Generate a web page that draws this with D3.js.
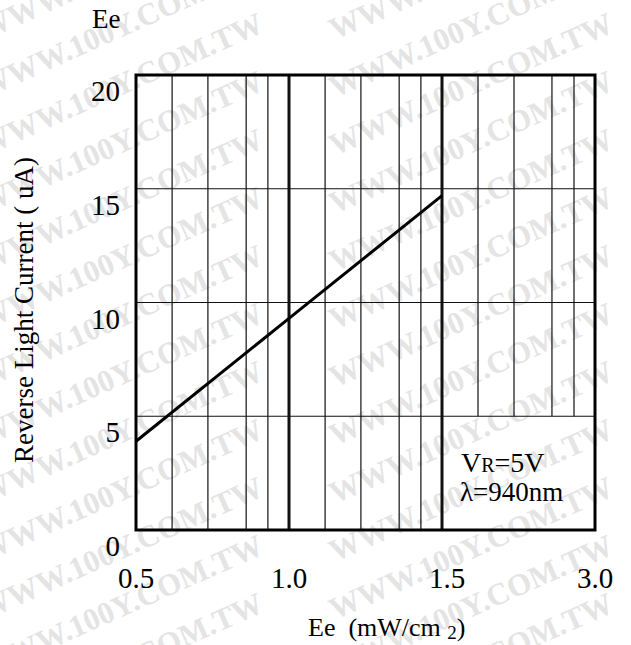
<!DOCTYPE html>
<html>
<meta charset="utf-8">
<head>
<style>
  body { margin: 0; background: #fff; }
  text { font-family: "Liberation Serif", "Times New Roman", serif; fill: #000; }
  .wm { font-weight: bold; fill: #e4e4e4; }
</style>
</head>
<body>
<script src="https://cdn.jsdelivr.net/npm/d3@7"></script>
<script>

// chart data
var xTicks = [0.5, 1.0, 1.5, 3.0];
var xTickLabels = ["0.5", "1.0", "1.5", "3.0"];
var yTicks = [0, 5, 10, 15, 20];
var yGrid = [5, 10, 15];
var xMajor = [1.0, 1.5];
var xMinor = [0.618, 0.735, 0.86, 0.931, 1.118, 1.235, 1.36, 1.431];
var xMinorUpper = [1.853, 2.206, 2.578, 2.794];   // stop at the 5 uA line
var ee = [0.5, 1.0, 1.5];
var current = [3.9, 9.3, 14.7];

var width = 631, height = 645;
var margin = {top: 75, right: 36, bottom: 115, left: 136};

// x axis is split into three equal segments
var x = d3.scaleLinear()
    .domain(xTicks)
    .range([margin.left, 289, 442, width - margin.right]);
var y = d3.scaleLinear()
    .domain([0, 20])
    .range([height - margin.bottom, margin.top]);

var svg = d3.select("body").append("svg")
    .attr("width", width)
    .attr("height", height);

// watermark
var wm = svg.append("g");
[-15, 335].forEach(function(cx) {
  for (var cy = 40; cy < 760; cy += 58) {
    wm.append("text")
      .attr("class", "wm")
      .attr("transform", "translate(" + cx + "," + cy + ") rotate(-24)")
      .style("font-size", "31px")
      .text("WWW.100Y.COM.TW");
  }
});

var grid = svg.append("g").attr("stroke", "#111").attr("fill", "none");

grid.selectAll(".minor")
  .data(xMinor)
  .enter().append("line")
    .attr("x1", function(d) { return x(d); })
    .attr("x2", function(d) { return x(d); })
    .attr("y1", y(20))
    .attr("y2", y(0))
    .attr("stroke-width", 1.2);

grid.selectAll(".minorU")
  .data(xMinorUpper)
  .enter().append("line")
    .attr("x1", function(d) { return x(d); })
    .attr("x2", function(d) { return x(d); })
    .attr("y1", y(20))
    .attr("y2", y(5))
    .attr("stroke-width", 1.2);

grid.selectAll(".hgrid")
  .data(yGrid)
  .enter().append("line")
    .attr("x1", x(0.5))
    .attr("x2", x(3.0))
    .attr("y1", function(d) { return y(d); })
    .attr("y2", function(d) { return y(d); })
    .attr("stroke-width", 1.2);

grid.selectAll(".major")
  .data(xMajor)
  .enter().append("line")
    .attr("x1", function(d) { return x(d); })
    .attr("x2", function(d) { return x(d); })
    .attr("y1", y(20))
    .attr("y2", y(0))
    .attr("stroke-width", 3);

// frame
svg.append("rect")
    .attr("x", x(0.5))
    .attr("y", y(20))
    .attr("width", x(3.0) - x(0.5))
    .attr("height", y(0) - y(20))
    .attr("fill", "none")
    .attr("stroke", "#000")
    .attr("stroke-width", 3);

// response line
var line = d3.line()
    .x(function(d, i) { return x(ee[i]); })
    .y(function(d) { return y(d); });

svg.append("path")
    .datum(current)
    .attr("d", line)
    .attr("fill", "none")
    .attr("stroke", "#000")
    .attr("stroke-width", 3);

// tick labels
svg.selectAll(".ylab")
  .data(yTicks)
  .enter().append("text")
    .attr("x", 120)
    .attr("y", function(d) { return y(d) + 26; })
    .attr("text-anchor", "end")
    .style("font-size", "29px")
    .text(function(d) { return d; });

svg.selectAll(".xlab")
  .data(xTicks)
  .enter().append("text")
    .attr("x", function(d) { return x(d) + (d === 1.5 ? 5 : 0); })
    .attr("y", 588)
    .attr("text-anchor", "middle")
    .style("font-size", "29px")
    .text(function(d, i) { return xTickLabels[i]; });

svg.append("text")
    .attr("x", 92)
    .attr("y", 28)
    .style("font-size", "27px")
    .text("Ee");

// axis titles
svg.append("text")
    .attr("transform", "translate(33," + 310 + ") rotate(-90)")
    .attr("text-anchor", "middle")
    .style("font-size", "27px")
    .text("Reverse Light Current ( uA)");

var xt = svg.append("text")
    .attr("x", 308)
    .attr("y", 636)
    .style("font-size", "26px")
    .attr("xml:space", "preserve");
xt.append("tspan").text("Ee  (mW/cm ");
xt.append("tspan").attr("dy", 3).style("font-size", "19px").text("2");
xt.append("tspan").attr("dy", -3).text(")");

// conditions
var c1 = svg.append("text")
    .attr("x", 461)
    .attr("y", 472)
    .style("font-size", "28px");
c1.append("tspan").text("V");
c1.append("tspan").style("font-size", "20px").text("R");
c1.append("tspan").text("=5V");

svg.append("text")
    .attr("x", 460)
    .attr("y", 501)
    .style("font-size", "27px")
    .text("\u03bb=940nm");

</script>
</body>
</html>
